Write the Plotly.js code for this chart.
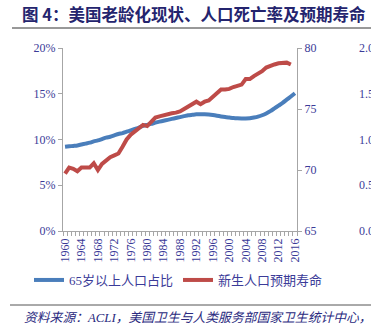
<!DOCTYPE html>
<html>
<head>
<meta charset="utf-8">
<script src="https://cdn.plot.ly/plotly-3.0.1.min.js"></script>
<style>
html,body{margin:0;padding:0;overflow:hidden;background:#fff;}
#chart{width:371px;height:332px;}
</style>
</head>
<body>
<div id="chart"></div>
<script>
const years = [1960,1961,1962,1963,1964,1965,1966,1967,1968,1969,
  1970,1971,1972,1973,1974,1975,1976,1977,1978,1979,
  1980,1981,1982,1983,1984,1985,1986,1987,1988,1989,
  1990,1991,1992,1993,1994,1995,1996,1997,1998,1999,
  2000,2001,2002,2003,2004,2005,2006,2007,2008,2009,
  2010,2011,2012,2013,2014,2015,2016];

// share of population aged 65+ (%)
const share65 = [9.2,9.25,9.3,9.35,9.45,9.55,9.65,9.8,9.9,10.05,
  10.2,10.3,10.45,10.6,10.7,10.85,11.0,11.15,11.3,11.5,
  11.6,11.7,11.85,11.95,12.05,12.15,12.25,12.35,12.45,12.55,
  12.65,12.7,12.75,12.75,12.75,12.72,12.67,12.6,12.52,12.45,
  12.4,12.35,12.32,12.3,12.3,12.32,12.4,12.5,12.65,12.85,
  13.1,13.4,13.7,14.0,14.35,14.7,15.05];

// life expectancy at birth (years)
const lifeExp = [69.7,70.2,70.1,69.9,70.2,70.2,70.2,70.55,70.0,70.5,
  70.8,71.05,71.2,71.35,71.9,72.5,72.9,73.2,73.4,73.7,
  73.6,74.0,74.3,74.4,74.5,74.55,74.65,74.7,74.8,75.0,
  75.2,75.4,75.6,75.4,75.6,75.7,76.0,76.4,76.6,76.6,
  76.65,76.8,76.9,77.0,77.45,77.45,77.7,77.9,78.1,78.4,
  78.55,78.65,78.75,78.75,78.8,78.65,null];

const tickYears = [1960,1964,1968,1972,1976,1980,1984,1988,1992,1996,2000,2004,2008,2012,2016];
const tickLabels = ['1960','1964','1968','1972','1976','1980','1984','1988','1992','1996','2000','2004','2008','2012','2016'];

const seriesNames = ['65岁以上人口占比','新生人口预期寿命'];
const titleText = '图 4：美国老龄化现状、人口死亡率及预期寿命';
const sourceText = '资料来源：ACLI，美国卫生与人类服务部国家卫生统计中心，';

const axisColor = '#a6a6a6';
const tickFont = {family:'Liberation Serif, Noto Sans CJK SC', size:12, color:'#3b3b98'};

const traces = [
  {x: years, y: share65.map(v => v/100), name: seriesNames[0], type:'scatter', mode:'lines',
   line:{color:'#4a7ebb', width:4, shape:'spline', smoothing:0.6}, xaxis:'x', yaxis:'y', hoverinfo:'skip'},
  {x: years, y: lifeExp, name: seriesNames[1], type:'scatter', mode:'lines',
   line:{color:'#be4b48', width:4}, xaxis:'x', yaxis:'y2', hoverinfo:'skip'},
  {x: [], y: [], xaxis:'x2', yaxis:'y3', showlegend:false, hoverinfo:'skip', type:'scatter', mode:'lines'}
];

const W = 308, H = 183, L = 63, B = 231;
const px = x => (x - L) / W;
const py = y => (B - y) / H;
const xRange = [years[0] - 0.5, years[years.length-1] + 0.5];

const layout = {
  width:371, height:332,
  margin:{l:L, r:0, t:48, b:101, pad:0},
  paper_bgcolor:'#fff', plot_bgcolor:'#fff',
  showlegend:true,
  title:{text:titleText, x:22/371, xanchor:'left', xref:'container', y:1-15/332, yanchor:'middle', yref:'container',
    font:{family:'Noto Sans CJK SC', size:16.5, color:'#24246e', weight:700}},
  xaxis:{domain:[0, 234/308], range:xRange, tickmode:'linear', tick0:xRange[0], dtick:1,
    ticks:'outside', ticklen:4, tickcolor:axisColor, showticklabels:false,
    showline:true, linecolor:axisColor, linewidth:1, showgrid:false, zeroline:false},
  xaxis2:{domain:[0, 234/308], range:xRange, overlaying:'x', anchor:'y', side:'bottom',
    tickmode:'array', tickvals:tickYears, ticktext:tickLabels, tickangle:-90, ticks:'',
    showline:false, showgrid:false, zeroline:false, tickfont:tickFont, ticklabelstandoff:4},
  yaxis:{range:[0,0.2], dtick:0.05, tick0:0, tickformat:'.0%', showline:true, linecolor:axisColor, linewidth:1,
    ticks:'outside', ticklen:4, tickcolor:axisColor, showgrid:false, zeroline:false, tickfont:tickFont},
  yaxis2:{range:[65,80], dtick:5, tick0:65, overlaying:'y', side:'right', anchor:'x', showline:true,
    linecolor:axisColor, linewidth:1, ticks:'outside', ticklen:4, tickcolor:axisColor, showgrid:false,
    zeroline:false, tickfont:tickFont},
  yaxis3:{range:[0,2], dtick:0.5, tick0:0, tickformat:'.1f', overlaying:'y', side:'right', anchor:'free',
    position:px(358), showline:false, ticks:'', showgrid:false, zeroline:false, tickfont:tickFont},
  legend:{orientation:'h', x:px(29), xanchor:'left', y:py(265), yanchor:'top',
    font:{family:'Liberation Serif, Noto Sans CJK SC', size:13, color:'#3b3b98'}, bgcolor:'rgba(0,0,0,0)',
    traceorder:'normal', itemwidth:30},
  shapes:[
    {type:'line', xref:'paper', yref:'paper', x0:px(12), x1:px(371), y0:py(28), y1:py(28), line:{color:'#333', width:1}},
    {type:'line', xref:'paper', yref:'paper', x0:px(10), x1:px(371), y0:py(305), y1:py(305), line:{color:'#555', width:1}}
  ],
  annotations:[
    {text:'<i>'+sourceText+'</i>', xref:'paper', yref:'paper', x:px(22), xanchor:'left', y:py(318), yanchor:'middle',
     showarrow:false, font:{family:'Liberation Serif, Noto Sans CJK SC', size:12.8, color:'#2a2a80'}}
  ]
};

Plotly.newPlot('chart', traces, layout, {displayModeBar:false, staticPlot:true});
</script>
</body>
</html>
